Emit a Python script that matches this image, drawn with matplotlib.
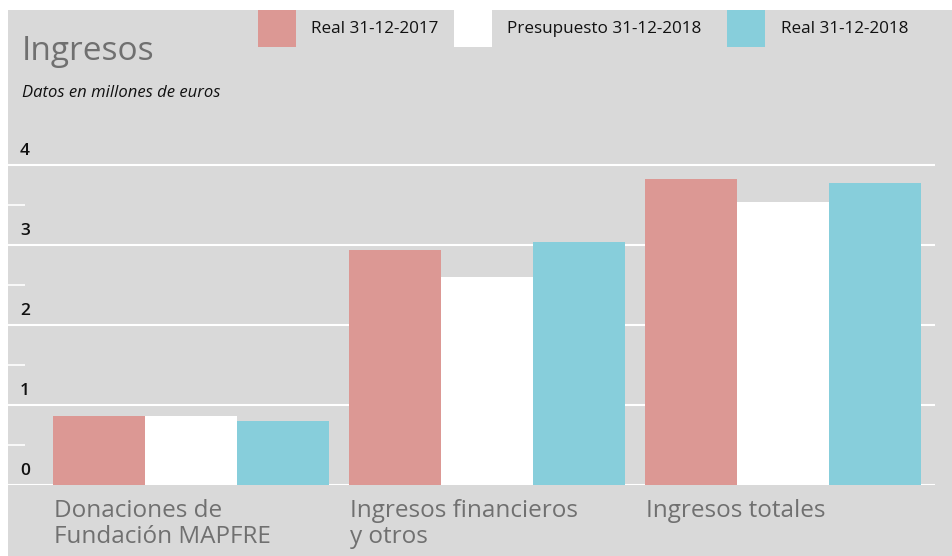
import matplotlib.pyplot as plt
import numpy as np
from matplotlib.patches import Rectangle
from matplotlib.transforms import blended_transform_factory

plt.rcParams["font.family"] = ["Open Sans", "DejaVu Sans"]

categories = ["Donaciones de\nFundación MAPFRE", "Ingresos financieros\ny otros", "Ingresos totales"]
series_names = ["Real 31-12-2017", "Presupuesto 31-12-2018", "Real 31-12-2018"]
real_2017 = [0.86, 2.94, 3.83]
presupuesto_2018 = [0.86, 2.60, 3.54]
real_2018 = [0.80, 3.04, 3.78]
y_ticks = [0, 1, 2, 3, 4]

colors = ["#dc9894", "#ffffff", "#87cedb"]
bg = "#d9d9d9"

W, H = 952, 556
fig = plt.figure(figsize=(W / 100, H / 100), dpi=100)
fig.patch.set_facecolor("white")
fig.patches.append(Rectangle((8 / W, 0), 1 - 8 / W, (H - 10) / H,
                             transform=fig.transFigure, facecolor=bg,
                             edgecolor="none", zorder=-10))

ax = fig.add_axes([8 / W, (H - 485) / H, (935 - 8) / W, (485 - 130) / H])
ax.set_facecolor("none")

x = np.arange(len(categories))
width = 0.311
for i, (vals, c) in enumerate(zip([real_2017, presupuesto_2018, real_2018], colors)):
    ax.bar(x + (i - 1) * width, vals, width, color=c, zorder=3)

ax.set_xlim(-0.618, 2.514)
ax.set_ylim(0, 4.4375)
for s in ax.spines.values():
    s.set_visible(False)
ax.set_yticks(y_ticks)
ax.set_yticks([0.5, 1.5, 2.5, 3.5], minor=True)
ax.yaxis.grid(True, color="white", linewidth=1.5, zorder=1)
ax.tick_params(axis="y", which="major", length=0, labelleft=False)
ax.tick_params(axis="y", which="minor", direction="in", length=12.5,
               width=1.2, color="white")
ax.set_xticks([])

trans = blended_transform_factory(ax.transAxes, ax.transData)
for t in y_ticks:
    ax.text(12 / 927, t + 0.07, str(t), transform=trans, ha="left", va="bottom",
            fontsize=12.5, fontweight="semibold", color="#111111")

for xi, label in zip(x, categories):
    ax.text(xi - 1.5 * width + 0.005, -0.17, label, ha="left", va="top",
            fontsize=17.5, color="#707070", linespacing=1.15, clip_on=False)

fig.text(22 / W, 1 - 52 / H, "Ingresos", fontsize=24, color="#707070",
         ha="left", va="center")
fig.text(22 / W, 1 - 93 / H, "Datos en millones de euros", fontsize=12,
         style="italic", color="#111111", ha="left", va="center")

patch_x = [258, 454, 727]
text_x = [311, 507, 781]
for px, tx, name, c in zip(patch_x, text_x, series_names, colors):
    fig.patches.append(Rectangle((px / W, 1 - 47 / H), 38 / W, 37 / H,
                                 transform=fig.transFigure, facecolor=c,
                                 edgecolor="none"))
    fig.text(tx / W, 1 - 29 / H, name, fontsize=12.3, color="#111111",
             ha="left", va="center")

fig.savefig("out.png", dpi=100)
